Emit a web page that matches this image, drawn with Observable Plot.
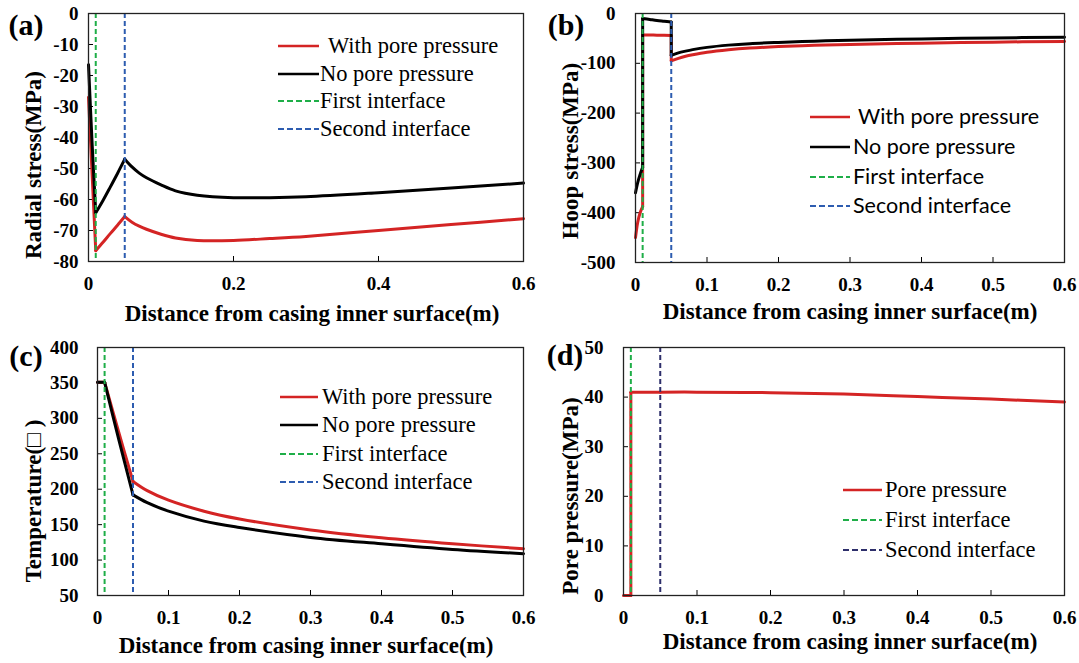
<!DOCTYPE html>
<html><head><meta charset="utf-8">
<script src="https://cdn.jsdelivr.net/npm/d3@7"></script>
<script src="https://cdn.jsdelivr.net/npm/@observablehq/plot@0.6"></script>
<style>
body{margin:0;background:#fff}
#root{position:relative;width:1079px;height:663px;overflow:hidden;background:#fff}
.abs{position:absolute;white-space:nowrap;line-height:1;color:#000}
.serifB{font-family:"Liberation Serif","DejaVu Serif",serif;font-weight:bold}
.serif{font-family:"Liberation Serif","DejaVu Serif",serif}
.sans{font-family:"Lato","Open Sans",sans-serif}
svg.plot{position:absolute}
</style></head><body><div id="root"></div>
<script>
// ---------- data ----------
const firstInterface = 0.01;
const secondInterface = 0.05;

// (a) radial stress
const radialX      = [0, 0.005, 0.01, 0.02, 0.03, 0.04, 0.05, 0.06, 0.07, 0.08, 0.1, 0.12, 0.15, 0.2, 0.25, 0.3, 0.4, 0.5, 0.6];
const radialNoPore = [-16.5, -42, -64.3, -60.3, -56, -51.6, -47, -49.5, -51.5, -53, -55.3, -57.2, -58.6, -59.4, -59.4, -59.1, -57.8, -56.3, -54.7];
const radialWith   = [-27, -52, -76.5, -73.8, -71, -68.3, -65.5, -67.3, -68.6, -69.6, -71.2, -72.4, -73.2, -73.2, -72.6, -71.9, -70, -68.1, -66.2];
const radialXTicks = [0, 0.2, 0.4, 0.6];
const radialYTicks = [0, -10, -20, -30, -40, -50, -60, -70, -80];

// (b) hoop stress
const hoopX      = [0, 0.003, 0.006, 0.01, 0.01, 0.02, 0.03, 0.04, 0.05, 0.05, 0.06, 0.07, 0.08, 0.1, 0.13, 0.16, 0.2, 0.25, 0.3, 0.4, 0.5, 0.6];
const hoopNoPore = [-360, -340, -325, -309, -10, -12, -14, -15.5, -17, -84, -79, -75.5, -72.5, -68, -63.5, -60.5, -58, -55.5, -53.5, -51, -49, -47.5];
const hoopWith   = [-450, -420, -402, -388, -43, -43, -43.5, -43.5, -44, -95, -90, -86, -83, -78, -73, -69.5, -66.5, -64, -62, -59.5, -57.5, -56];
const hoopXTicks = [0, 0.1, 0.2, 0.3, 0.4, 0.5, 0.6];
const hoopYTicks = [0, -100, -200, -300, -400, -500];

// (c) temperature
const tempX      = [0, 0.01, 0.03, 0.05, 0.07, 0.1, 0.15, 0.2, 0.3, 0.4, 0.5, 0.6];
const tempNoPore = [351, 351, 270, 192, 181, 169, 155, 146, 132, 123, 115, 109];
const tempWith   = [351, 351, 280, 211, 198, 184.5, 169, 158, 142.5, 131.5, 123, 116];
const tempXTicks = [0, 0.1, 0.2, 0.3, 0.4, 0.5, 0.6];
const tempYTicks = [50, 100, 150, 200, 250, 300, 350, 400];

// (d) pore pressure
const poreX     = [0, 0.01, 0.01, 0.05, 0.1, 0.2, 0.3, 0.4, 0.5, 0.6];
const porePress = [0, 0, 41, 41, 41, 40.9, 40.6, 40.1, 39.6, 39];
const poreXTicks = [0, 0.1, 0.2, 0.3, 0.4, 0.5, 0.6];
const poreYTicks = [0, 10, 20, 30, 40, 50];

const xTitle = "Distance from casing inner surface(m)";

// ---------- styles ----------
const RED = "#d42424", BLACK = "#000", GREEN = "#1fae48", BLUE = "#2d5cb0", NAVY = "#2e2f6b";
const SERIF = '"Liberation Serif", "DejaVu Serif", serif';
const root = document.getElementById("root");
const breaks = [firstInterface, secondInterface];

// split a series into pieces at the interfaces (boundary points shared)
function segments(xs, ys) {
  const out = []; let seg = 0;
  xs.forEach((x, i) => {
    out.push({x, y: ys[i], seg});
    if (breaks.includes(x) && i > 0 && i < xs.length - 1) { seg++; out.push({x, y: ys[i], seg}); }
  });
  return out;
}

function panel({left, top, width, height, frame, xTicks, yTicks, yDomain, yPad, lines, interfaces}) {
  const [fx0, fy0, fx1, fy1] = frame;
  const innerW = fx1 - fx0, innerH = fy1 - fy0;
  const marks = [
    Plot.ruleX(xTicks, {x: d => d, insetTop: innerH - 5, stroke: "#000", strokeWidth: 1}),
    Plot.ruleY(yTicks, {y: d => d, insetRight: innerW - 5, stroke: "#000", strokeWidth: 1}),
    ...lines.map(l => Plot.line(l.data, {x: "x", y: "y", z: "seg", stroke: l.color, strokeWidth: 3, curve: "catmull-rom"})),
    ...interfaces.map(f => Plot.ruleX([f.x], {x: d => d, stroke: f.color, strokeWidth: 2, strokeDasharray: "5,3"})),
    Plot.frame({stroke: "#222", strokeWidth: 1.3})
  ];
  const svg = Plot.plot({
    width, height,
    marginLeft: fx0 - left, marginTop: fy0 - top,
    marginRight: left + width - fx1, marginBottom: top + height - fy1,
    x: {domain: [0, 0.6], ticks: xTicks, tickSize: 0, tickPadding: 15, tickFormat: d => String(d), label: null},
    y: {domain: yDomain, ticks: yTicks, tickSize: 0, tickPadding: yPad, tickFormat: d => String(d), label: null},
    style: {background: "transparent", overflow: "visible", color: "#000"},
    marks
  });
  svg.setAttribute("font-family", SERIF);
  svg.setAttribute("font-size", "19");
  svg.setAttribute("font-weight", "bold");
  svg.style.setProperty("font-family", SERIF, "important");
  svg.style.setProperty("font-size", "19px", "important");
  svg.style.setProperty("font-weight", "bold", "important");
  svg.querySelectorAll("g, text").forEach(el => {
    el.removeAttribute("font-variant");
    if (el.hasAttribute("font-family")) el.setAttribute("font-family", SERIF);
    if (el.hasAttribute("font-size")) el.setAttribute("font-size", "19");
  });
  svg.querySelectorAll("text").forEach(t => {
    t.setAttribute("font-family", SERIF);
    t.setAttribute("font-weight", "bold");
    t.setAttribute("font-size", "19");
    t.style.setProperty("font-family", SERIF, "important");
    t.style.setProperty("font-weight", "bold", "important");
    t.style.setProperty("font-size", "19px", "important");
    t.style.setProperty("font-variant", "normal", "important");
  });
  svg.style.left = left + "px"; svg.style.top = top + "px";
  svg.classList.add("plot");
  root.appendChild(svg);
}

function text(str, x, y, cls, size, rotate = false) {
  const d = document.createElement("div");
  d.className = "abs " + cls;
  d.textContent = str;
  d.style.left = x + "px"; d.style.top = y + "px";
  d.style.fontSize = size + "px";
  d.style.transform = "translate(-50%,-50%)" + (rotate ? " rotate(-90deg)" : "");
  root.appendChild(d);
}

function legend(items, cls, size) {
  for (const it of items) {
    const s = document.createElementNS("http://www.w3.org/2000/svg", "svg");
    const w = it.x1 - it.x0;
    s.setAttribute("width", w); s.setAttribute("height", 8);
    s.style.position = "absolute"; s.style.left = it.x0 + "px"; s.style.top = (it.y - 4) + "px";
    const ln = document.createElementNS("http://www.w3.org/2000/svg", "line");
    ln.setAttribute("x1", 0); ln.setAttribute("x2", w); ln.setAttribute("y1", 4); ln.setAttribute("y2", 4);
    ln.setAttribute("stroke", it.color); ln.setAttribute("stroke-width", it.dash ? 2 : 2.5);
    if (it.dash) ln.setAttribute("stroke-dasharray", "6,3,6,3,6,3,6,3,2,0");
    s.appendChild(ln); root.appendChild(s);
    const d = document.createElement("div");
    d.className = "abs " + cls; d.textContent = it.label;
    d.style.left = it.tx + "px"; d.style.top = it.y + "px"; d.style.fontSize = size + "px";
    d.style.transform = "translateY(-50%)";
    root.appendChild(d);
  }
}

// ---------- panels ----------
panel({left: 0, top: 0, width: 540, height: 330, frame: [88, 13, 523, 261],
  xTicks: radialXTicks, yTicks: radialYTicks, yDomain: [-80, 0], yPad: 10,
  lines: [{data: segments(radialX, radialWith), color: RED}, {data: segments(radialX, radialNoPore), color: BLACK}],
  interfaces: [{x: firstInterface, color: GREEN}, {x: secondInterface, color: BLUE}]});

panel({left: 540, top: 0, width: 539, height: 330, frame: [635, 13, 1064, 262],
  xTicks: hoopXTicks, yTicks: hoopYTicks, yDomain: [-500, 0], yPad: 20,
  lines: [{data: segments(hoopX, hoopWith), color: RED}, {data: segments(hoopX, hoopNoPore), color: BLACK}],
  interfaces: [{x: firstInterface, color: GREEN}, {x: secondInterface, color: BLUE}]});

panel({left: 0, top: 330, width: 540, height: 333, frame: [97, 347, 523, 595],
  xTicks: tempXTicks, yTicks: tempYTicks, yDomain: [50, 400], yPad: 19,
  lines: [{data: segments(tempX, tempWith), color: RED}, {data: segments(tempX, tempNoPore), color: BLACK}],
  interfaces: [{x: firstInterface, color: GREEN}, {x: secondInterface, color: BLUE}]});

panel({left: 540, top: 330, width: 539, height: 333, frame: [623, 347, 1064, 595],
  xTicks: poreXTicks, yTicks: poreYTicks, yDomain: [0, 50], yPad: 20,
  lines: [{data: segments(poreX, porePress), color: RED}],
  interfaces: [{x: firstInterface, color: GREEN}, {x: secondInterface, color: NAVY}]});

// ---------- titles ----------
text("(a)", 26, 25, "serifB", 30);
text("(b)", 566, 25, "serifB", 30);
text("(c)", 26, 356, "serifB", 30);
text("(d)", 565, 355, "serifB", 30);

text("Radial stress(MPa)", 33, 165, "serifB", 23, true);
text("Hoop stress(MPa)", 570, 151, "serifB", 23, true);
text("Temperature(\u25A1 )", 33, 501, "serifB", 23, true);
text("Pore pressure(MPa)", 570, 496, "serifB", 23, true);

text(xTitle, 312, 313, "serifB", 23);
text(xTitle, 850, 311, "serifB", 23);
text(xTitle, 306, 645, "serifB", 23);
text(xTitle, 850, 641, "serifB", 23);

// ---------- legends ----------
legend([
  {label: "With pore pressure", color: RED, x0: 278, x1: 319, tx: 328, y: 46},
  {label: "No pore pressure", color: BLACK, x0: 278, x1: 319, tx: 320, y: 74},
  {label: "First interface", color: GREEN, dash: true, x0: 278, x1: 319, tx: 320, y: 101},
  {label: "Second interface", color: BLUE, dash: true, x0: 278, x1: 319, tx: 320, y: 129}
], "serif", 22.5);

legend([
  {label: "With pore pressure", color: RED, x0: 810, x1: 850, tx: 858, y: 117},
  {label: "No pore pressure", color: BLACK, x0: 810, x1: 850, tx: 853, y: 147},
  {label: "First interface", color: GREEN, dash: true, x0: 810, x1: 850, tx: 853, y: 177},
  {label: "Second interface", color: BLUE, dash: true, x0: 810, x1: 850, tx: 853, y: 206}
], "sans", 21.5);

legend([
  {label: "With pore pressure", color: RED, x0: 280, x1: 318, tx: 322, y: 397},
  {label: "No pore pressure", color: BLACK, x0: 280, x1: 318, tx: 322, y: 425},
  {label: "First interface", color: GREEN, dash: true, x0: 280, x1: 318, tx: 322, y: 454},
  {label: "Second interface", color: BLUE, dash: true, x0: 280, x1: 318, tx: 322, y: 482}
], "serif", 22.5);

legend([
  {label: "Pore pressure", color: RED, x0: 843, x1: 882, tx: 885, y: 490},
  {label: "First interface", color: GREEN, dash: true, x0: 843, x1: 882, tx: 885, y: 520},
  {label: "Second interface", color: NAVY, dash: true, x0: 843, x1: 882, tx: 885, y: 550}
], "serif", 22.5);
</script></body></html>
